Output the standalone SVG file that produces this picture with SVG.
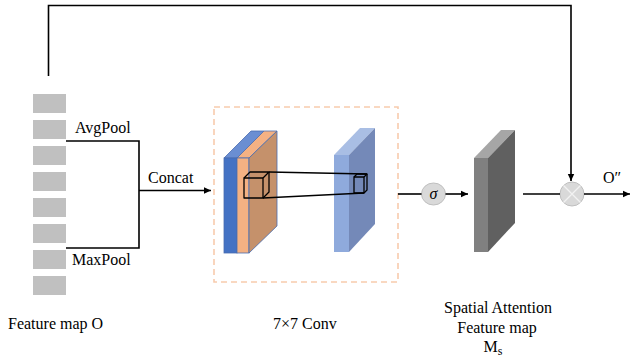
<svg xmlns="http://www.w3.org/2000/svg" width="631" height="360" viewBox="0 0 631 360">
<defs>
<marker id="ah" markerUnits="userSpaceOnUse" markerWidth="8" markerHeight="8" refX="7" refY="4" orient="auto">
<path d="M0,0.8 L7,4 L0,7.2 Z" fill="#000"/>
</marker>
<style>
.t{font-family:"Liberation Serif","Times New Roman",serif;font-size:16px;fill:#000}
.ln{fill:none;stroke:#000;stroke-width:1.6}
.sq{fill:#C0C0C0}
.cube{fill:none;stroke:#000;stroke-width:1.3;stroke-linejoin:round}
.op{fill:#D9D9D9;stroke:#BFBFBF;stroke-width:1}
</style>
</defs>
<rect width="631" height="360" fill="#fff"/>

<g id="feature-map">
<rect class="sq" x="33" y="94" width="33" height="19"/>
<rect class="sq" x="33" y="120" width="33" height="19"/>
<rect class="sq" x="33" y="146" width="33" height="19"/>
<rect class="sq" x="33" y="172" width="33" height="19"/>
<rect class="sq" x="33" y="198" width="33" height="19"/>
<rect class="sq" x="33" y="224" width="33" height="19"/>
<rect class="sq" x="33" y="250" width="33" height="19"/>
<rect class="sq" x="33" y="276" width="33" height="19"/>
<text class="t" x="8" y="329">Feature map O</text>
</g>

<g id="conv-box">
<rect x="214" y="107" width="184" height="175" fill="none" stroke="#F8CBAD" stroke-width="1.6" stroke-dasharray="6 4"/>
<text class="t" x="273" y="329">7×7 Conv</text>
</g>

<g id="input-block">
<polygon points="224,158 237,158 264,131 251,131" fill="#6A8ED2" stroke="#4A6DB0" stroke-width="0.8"/>
<rect x="224" y="158" width="13" height="95" fill="#4472C4" stroke="#4A6DB0" stroke-width="0.8"/>
<polygon points="237,158 249,158 277,131 264,131" fill="#F4B183" stroke="#4A6DB0" stroke-width="0.8"/>
<rect x="237" y="158" width="12" height="95" fill="#F4B183" stroke="#4A6DB0" stroke-width="0.8"/>
<polygon points="249,158 277,131 277,226 249,253" fill="#C5916B" stroke="#4A6DB0" stroke-width="0.8"/>
<rect class="cube" x="244" y="178" width="19" height="20"/>
<polyline class="cube" points="244,178 250,172 269,172 263,178"/>
<polyline class="cube" points="269,172 269,192 263,198"/>
</g>

<g id="conv-output-block">
<polygon points="334,155 349,155 375,128 360,128" fill="#A9BEE4"/>
<rect x="334" y="155" width="15" height="97" fill="#8FAADC"/>
<polygon points="349,155 375,128 375,224 349,252" fill="#7489B8"/>
<rect class="cube" x="354" y="177" width="10" height="16"/>
<polyline class="cube" points="354,177 357,174 367,174 364,177"/>
<polyline class="cube" points="367,174 367,190 364,193"/>
</g>

<g id="sigmoid">
<ellipse class="op" cx="433.5" cy="194" rx="12" ry="11"/>
<text x="433.5" y="199" text-anchor="middle" font-family="Liberation Serif,serif" font-style="italic" font-size="16">σ</text>
</g>

<g id="attention-map">
<polygon points="474,158 488,158 515,130 501,130" fill="#A6A6A6"/>
<rect x="474" y="158" width="14" height="94" fill="#808080"/>
<polygon points="488,158 515,130 515,223 488,252" fill="#606060"/>
<text class="t" x="498" y="313" text-anchor="middle">Spatial Attention</text>
<text class="t" x="497" y="333" text-anchor="middle">Feature map</text>
<text class="t" x="493" y="352" text-anchor="middle">M<tspan font-size="12" dy="3">s</tspan></text>
</g>

<g id="multiply">
<circle class="op" cx="572" cy="194" r="12"/>
<path d="M563.5,185.5 L580.5,202.5 M580.5,185.5 L563.5,202.5" stroke="#F2F2F2" stroke-width="1.3"/>
</g>

<g id="connectors">
<path class="ln" d="M48.5,76 V5.5 H571 V181" marker-end="url(#ah)"/>
<path class="ln" d="M66,141 H139 V248 H66"/>
<path class="ln" d="M139,190.5 H211" marker-end="url(#ah)"/>
<path class="ln" d="M269,172 L367,174 M263,198 L364,193" stroke-width="1.3"/>
<path class="ln" d="M398,194 H421.5"/>
<path class="ln" d="M445.5,194 H468" marker-end="url(#ah)"/>
<path class="ln" d="M523,194 H560"/>
<path class="ln" d="M584,194 H630" marker-end="url(#ah)"/>
</g>

<g id="labels">
<text class="t" x="75" y="133">AvgPool</text>
<text class="t" x="72" y="265">MaxPool</text>
<text class="t" x="148" y="183">Concat</text>
<text class="t" x="603" y="183">O″</text>
</g>
</svg>
